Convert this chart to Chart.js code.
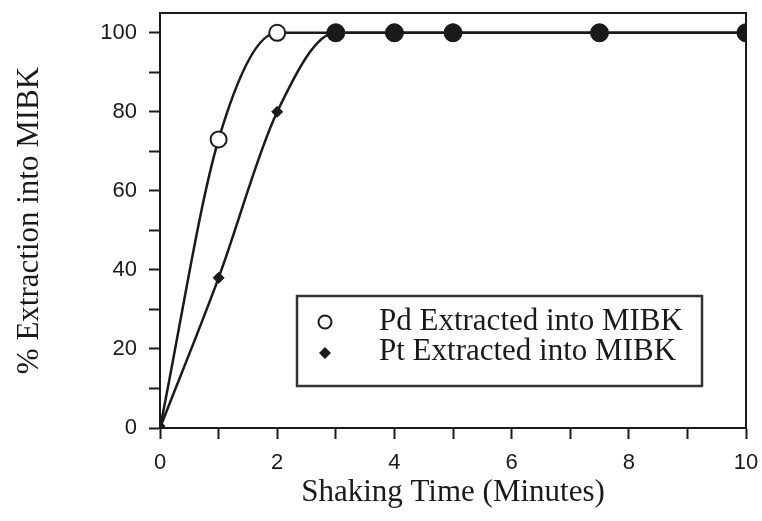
<!DOCTYPE html>
<html>
<head>
<meta charset="utf-8">
<script src="https://cdn.jsdelivr.net/npm/chart.js@4/dist/chart.umd.min.js"></script>
<style>
  html, body { margin: 0; padding: 0; background: #fff; }
  #wrap { width: 762px; height: 521px; }
</style>
</head>
<body>
<div id="wrap"><canvas id="chart"></canvas></div>
<script>
// Shaking time vs % extraction into MIBK
const times = [0, 1, 2, 3, 4, 5, 7.5, 10];
const pdValues = [0, 73, 100, 100, 100, 100, 100, 100];
const ptValues = [0, 38, 80, 100, 100, 100, 100, 100];
const seriesLabels = ["Pd Extracted into MIBK", "Pt Extracted into MIBK"];

const ink = "#1a1a1a";
const serif = "'Liberation Serif', 'Times New Roman', serif";
const sans = "'Liberation Sans', Arial, sans-serif";

// box around the plot + legend inside it
const framePlugin = {
  id: "frame",
  afterDraw(chart) {
    const { ctx, chartArea: a } = chart;
    ctx.save();
    ctx.strokeStyle = ink;
    ctx.lineWidth = 2;
    ctx.strokeRect(a.left, a.top, a.right - a.left, a.bottom - a.top);

    // legend
    ctx.lineWidth = 2.5;
    ctx.strokeStyle = "#333";
    ctx.strokeRect(297, 296, 405, 90);
    ctx.font = "31px " + serif;
    ctx.fillStyle = ink;
    ctx.textBaseline = "alphabetic";
    ctx.fillText(seriesLabels[0], 379, 330);
    ctx.fillText(seriesLabels[1], 379, 360);
    ctx.beginPath();
    ctx.lineWidth = 2;
    ctx.strokeStyle = ink;
    ctx.arc(325, 322, 6.5, 0, Math.PI * 2);
    ctx.stroke();
    ctx.beginPath();
    ctx.moveTo(325, 347);
    ctx.lineTo(331, 353);
    ctx.lineTo(325, 359);
    ctx.lineTo(319, 353);
    ctx.closePath();
    ctx.fill();
    ctx.restore();
  }
};

new Chart(document.getElementById("chart"), {
  type: "line",
  data: {
    datasets: [
      {
        label: seriesLabels[0],
        order: 1,
        data: times.map((t, i) => ({ x: t, y: pdValues[i] })),
        borderColor: ink,
        borderWidth: 2.5,
        cubicInterpolationMode: "monotone",
        pointStyle: "circle",
        pointRadius: [0, 8, 8, 8, 8, 8, 8, 8],
        pointBorderWidth: 2,
        pointBorderColor: ink,
        pointBackgroundColor: "#fff",
      },
      {
        label: seriesLabels[1],
        order: 0,
        data: times.map((t, i) => ({ x: t, y: ptValues[i] })),
        borderColor: ink,
        borderWidth: 2.5,
        cubicInterpolationMode: "monotone",
        pointStyle: ["circle", "rectRot", "rectRot", "circle", "circle", "circle", "circle", "circle"],
        pointRadius: [5, 5.5, 5.5, 9, 9, 9, 9, 9],
        pointBorderWidth: 1,
        pointBorderColor: ink,
        pointBackgroundColor: ink,
      },
    ],
  },
  options: {
    responsive: true,
    maintainAspectRatio: false,
    animation: false,
    layout: { padding: { top: 13, right: 16, left: 0, bottom: 0 } },
    plugins: {
      legend: { display: false },
      tooltip: { enabled: false },
    },
    scales: {
      x: {
        type: "linear",
        min: 0,
        max: 10,
        afterFit(scale) {
          scale.height = 93;
          scale.paddingLeft = 0;
          scale.paddingRight = 0;
        },
        grid: { drawOnChartArea: false, tickLength: 11, tickColor: ink, tickWidth: 2 },
        border: { color: ink, width: 2 },
        ticks: {
          stepSize: 1,
          autoSkip: false,
          includeBounds: false,
          maxRotation: 0,
          padding: 11,
          color: ink,
          font: { family: sans, size: 22 },
          callback: (v) => (v % 2 === 0 ? v : ""),
        },
        title: {
          display: true,
          text: "Shaking Time (Minutes)",
          color: ink,
          font: { family: serif, size: 31 },
          padding: { top: 0, bottom: 10 },
        },
      },
      y: {
        min: 0,
        max: 105,
        afterFit(scale) {
          scale.width = 160;
          scale.paddingTop = 0;
          scale.paddingBottom = 0;
        },
        grid: { drawOnChartArea: false, tickLength: 11, tickColor: ink, tickWidth: 2 },
        border: { color: ink, width: 2 },
        ticks: {
          stepSize: 10,
          autoSkip: false,
          includeBounds: false,
          padding: 12,
          color: ink,
          font: { family: sans, size: 22 },
          callback: (v) => (v % 20 === 0 ? v : ""),
        },
        title: {
          display: true,
          text: "% Extraction into MIBK",
          color: ink,
          font: { family: serif, size: 31 },
          padding: { top: 11, bottom: 0 },
        },
      },
    },
  },
  plugins: [framePlugin],
});
</script>
</body>
</html>
